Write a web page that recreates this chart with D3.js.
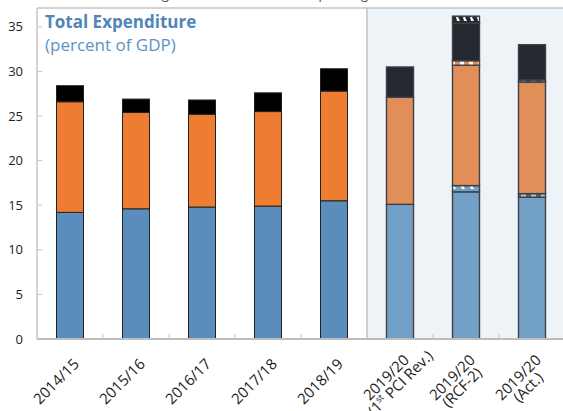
<!DOCTYPE html>
<html>
<head>
<meta charset="utf-8">
<script src="https://cdn.jsdelivr.net/npm/d3@7"></script>
<style>
  body { margin: 0; background: #fff; }
  svg { display: block; font-family: "Open Sans", "Noto Sans", sans-serif; }
</style>
</head>
<body>
<div id="chart"></div>
<script>
// data (percent of GDP)
var categories = ["2014/15", "2015/16", "2016/17", "2017/18", "2018/19", "pci", "rcf", "act"];
var labelLine1 = ["2014/15", "2015/16", "2016/17", "2017/18", "2018/19", "2019/20", "2019/20", "2019/20"];
var labelLine2 = ["", "", "", "", "", "(1|st| PCI Rev.)", "(RCF-2)", "(Act.)"];
var projected = [false, false, false, false, false, true, true, true];

var blue      = [14.2, 14.6, 14.8, 14.9, 15.5, 15.1, 16.5, 15.9];
var blueAdj   = [0, 0, 0, 0, 0, 0, 0.7, 0.4];
var orange    = [12.4, 10.8, 10.4, 10.6, 12.3, 12.0, 13.5, 12.5];
var orangeAdj = [0, 0, 0, 0, 0, 0, 0.5, 0.25];
var top_      = [1.8, 1.5, 1.6, 2.1, 2.5, 3.4, 4.2, 3.95];
var topAdj    = [0, 0, 0, 0, 0, 0, 0.8, 0];

var yTicks = [0, 5, 10, 15, 20, 25, 30, 35];

var keys = ["blue", "blueAdj", "orange", "orangeAdj", "top", "topAdj"];
var rows = categories.map(function(c, i) {
  return { cat: c, i: i, blue: blue[i], blueAdj: blueAdj[i], orange: orange[i],
           orangeAdj: orangeAdj[i], top: top_[i], topAdj: topAdj[i] };
});

var W = 563, H = 411;
var left = 37, right = 565, topY = 9, bottom = 339;

var svg = d3.select("#chart").append("svg")
    .attr("width", W)
    .attr("height", H);

var x = d3.scaleBand()
    .domain(categories)
    .range([left, right])
    .paddingInner(0.591)
    .paddingOuter(0.2955);

var y = d3.scaleLinear()
    .domain([0, 37])
    .range([bottom, topY]);

var histColor = { blue: "#5a8dbb", orange: "#ef7d31", top: "#000000" };
var projColor = { blue: "#72a0c6", orange: "#e18e58", top: "#24292f" };

// hatch patterns for the small adjustment pieces
var defs = svg.append("defs");
function dashPattern(id, bg, fg, w, gap, diag) {
  var p = defs.append("pattern")
      .attr("id", id)
      .attr("patternUnits", "userSpaceOnUse")
      .attr("width", w + gap)
      .attr("height", 8);
  p.append("rect").attr("width", w + gap).attr("height", 8).attr("fill", bg);
  if (diag) {
    p.append("path")
      .attr("d", "M1,1 L" + (w - 1) + ",1 L" + (w + 1) + ",5 L" + (w - 2) + ",5 Z")
      .attr("fill", fg);
  } else {
    p.append("rect").attr("x", 1).attr("width", w).attr("height", 8).attr("fill", fg);
  }
}
dashPattern("p6-blueAdj", projColor.blue, "#ffffff", 5, 4, true);
dashPattern("p6-orangeAdj", projColor.orange, "#ffffff", 4, 5, false);
dashPattern("p6-topAdj", projColor.top, "#ffffff", 4, 3, true);
dashPattern("p7-blueAdj", "#4f6677", "#b7c2cc", 5, 5, false);
dashPattern("p7-orangeAdj", "#4e5359", "#8c9197", 5, 5, false);

// shaded projection area
var split = x(categories[5]) - x.step() * x.paddingInner() / 2;
svg.append("rect")
    .attr("x", split)
    .attr("y", topY - 1)
    .attr("width", right - split)
    .attr("height", bottom - topY + 1)
    .attr("fill", "#eef3f8");

// frame
var frame = svg.append("g").attr("stroke", "#c4c4c4").attr("fill", "none");
frame.append("line").attr("x1", left).attr("x2", right).attr("y1", topY - 1).attr("y2", topY - 1).attr("stroke-width", 1.5);
frame.append("line").attr("x1", left).attr("x2", left).attr("y1", topY - 1).attr("y2", bottom).attr("stroke-width", 1.5);
frame.append("line").attr("x1", split).attr("x2", split).attr("y1", topY - 1).attr("y2", bottom).attr("stroke-width", 1.5);

// y ticks (inside) and labels
svg.append("g").selectAll("line")
  .data(yTicks.slice(1))
  .enter().append("line")
    .attr("x1", left).attr("x2", left + 5)
    .attr("y1", function(d) { return y(d); })
    .attr("y2", function(d) { return y(d); })
    .attr("stroke", "#c4c4c4");

svg.append("g").selectAll("text")
  .data(yTicks)
  .enter().append("text")
    .attr("x", 23)
    .attr("y", function(d) { return y(d); })
    .attr("dy", "0.35em")
    .attr("text-anchor", "end")
    .attr("font-size", 13)
    .attr("fill", "#222")
    .text(function(d) { return d; });

// bars
var series = d3.stack().keys(keys)(rows);
var bars = svg.append("g");
series.forEach(function(s) {
  var key = s.key;
  bars.selectAll(".seg-" + key)
    .data(s.filter(function(d) { return d[1] - d[0] > 0; }))
    .enter().append("rect")
      .attr("class", "seg-" + key)
      .attr("x", function(d) { return x(d.data.cat); })
      .attr("width", x.bandwidth())
      .attr("y", function(d) { return y(d[1]); })
      .attr("height", function(d) { return y(d[0]) - y(d[1]); })
      .attr("fill", function(d) {
        var i = d.data.i;
        if (key.indexOf("Adj") > 0) return "url(#p" + i + "-" + key + ")";
        return projected[i] ? projColor[key] : histColor[key];
      })
      .attr("stroke", function(d) { return projected[d.data.i] ? "#3d4145" : "#222"; })
      .attr("stroke-width", function(d) { return projected[d.data.i] ? 1.4 : 1; });
});

// bottom axis line and tick marks at band edges
svg.append("line")
    .attr("x1", left).attr("x2", right)
    .attr("y1", bottom).attr("y2", bottom)
    .attr("stroke", "#bdbdbd").attr("stroke-width", 2);

svg.append("g").selectAll("line")
  .data(categories.slice(1))
  .enter().append("line")
    .attr("x1", function(d) { return x(d) - x.step() * x.paddingInner() / 2; })
    .attr("x2", function(d) { return x(d) - x.step() * x.paddingInner() / 2; })
    .attr("y1", bottom).attr("y2", bottom - 5)
    .attr("stroke", "#c4c4c4");

// x labels, rotated
var xl = svg.append("g").attr("font-size", 15).attr("fill", "#222");
categories.forEach(function(c, i) {
  var cx = x(c) + x.bandwidth() / 2;
  var multi = labelLine2[i] !== "";
  var g = xl.append("g")
      .attr("transform", "translate(" + (cx + 10) + "," + (multi ? 361 : 365) + ") rotate(-45)");
  var t1 = g.append("text").attr("text-anchor", "end").text(labelLine1[i]);
  if (multi) {
    var L1 = t1.node().getComputedTextLength();
    var t2 = g.append("text")
        .attr("text-anchor", "middle")
        .attr("x", -L1 / 2 + (i === 5 ? 6 : 0))
        .attr("y", 14);
    labelLine2[i].split("|").forEach(function(part, k) {
      var ts = t2.append("tspan").text(part);
      if (k === 1) ts.attr("font-size", 9).attr("dy", -6);
      if (k === 2) ts.attr("dy", 6);
    });
  }
});

// title
svg.append("text")
    .attr("x", 45).attr("y", 28)
    .attr("font-size", 17).attr("font-weight", "bold")
    .attr("fill", "#4f86b8")
    .text("Total Expenditure");
svg.append("text")
    .attr("x", 45).attr("y", 51)
    .attr("font-size", 17)
    .attr("fill", "#5b93c3")
    .text("(percent of GDP)");

// tail of the text line above the chart, cut off by the page edge
svg.append("text")
    .attr("x", 112).attr("y", -1)
    .attr("font-size", 13)
    .attr("fill", "#444")
    .text("reflecting the increase in current spending...");
</script>
</body>
</html>
